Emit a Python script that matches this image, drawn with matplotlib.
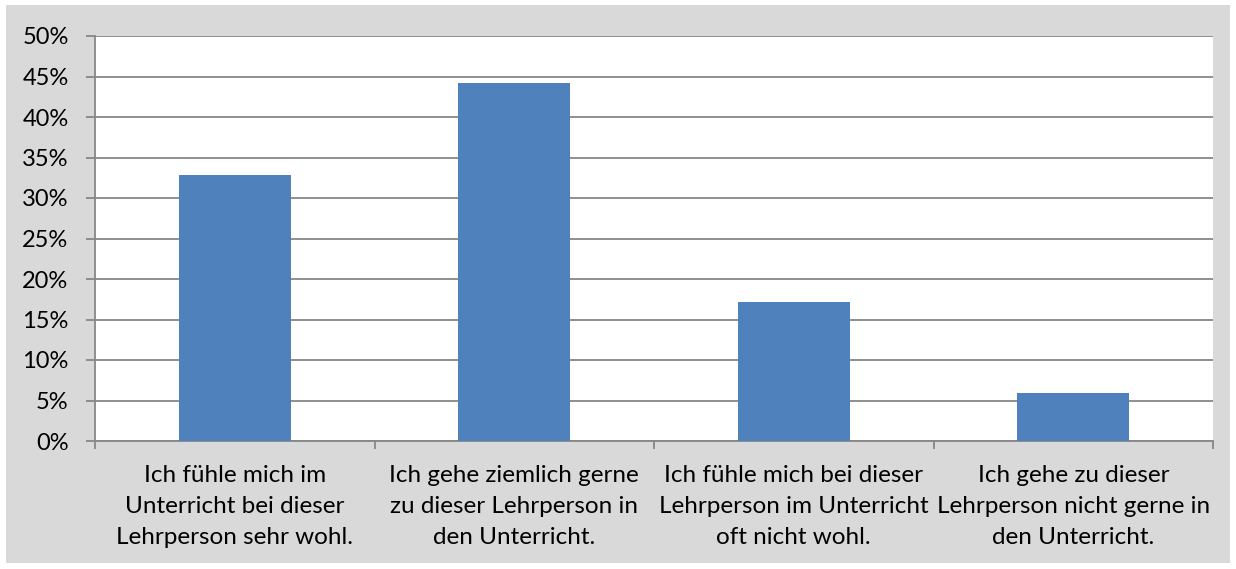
import matplotlib
matplotlib.use("Agg")
import matplotlib.pyplot as plt
from matplotlib.patches import Rectangle
from matplotlib.ticker import FixedLocator, PercentFormatter

categories = [
    "Ich fühle mich im\nUnterricht bei dieser\nLehrperson sehr wohl.",
    "Ich gehe ziemlich gerne\nzu dieser Lehrperson in\nden Unterricht.",
    "Ich fühle mich bei dieser\nLehrperson im Unterricht\noft nicht wohl.",
    "Ich gehe zu dieser\nLehrperson nicht gerne in\nden Unterricht.",
]
values = [32.8, 44.2, 17.2, 5.9]
yticks = [0, 5, 10, 15, 20, 25, 30, 35, 40, 45, 50]

plt.rcParams['font.family'] = ['Lato', 'DejaVu Sans']

W, H = 1236, 569
fig = plt.figure(figsize=(W / 100, H / 100), dpi=100, facecolor="white")
fig.patches.append(Rectangle((6 / W, 6 / H), (1230 - 6) / W, (564 - 6) / H,
                             transform=fig.transFigure, facecolor="#D9D9D9",
                             edgecolor="none", zorder=-10))

ax = fig.add_axes([95 / W, (H - 441) / H, (1213 - 95) / W, (441 - 36) / H])
ax.set_facecolor("white")
x = list(range(len(categories)))
ax.bar(x, values, width=0.4, color="#4F81BD", zorder=3)
ax.set_xlim(-0.5, len(categories) - 0.5)
ax.set_ylim(0, 50)
ax.set_yticks(yticks)
ax.yaxis.set_major_formatter(PercentFormatter(decimals=0))
ax.grid(axis="y", color="#878787", linewidth=1.3, zorder=1)
for s in ["top", "right"]:
    ax.spines[s].set_visible(False)
for s in ["left", "bottom"]:
    ax.spines[s].set_color("#878787")
    ax.spines[s].set_linewidth(1.3)
ax.tick_params(axis="y", length=6.5, width=1.3, color="#878787",
               labelsize=17, labelcolor="black", pad=12.5)
ax.set_xticks(x)
ax.set_xticklabels(categories, fontsize=17.5, linespacing=1.6)
ax.tick_params(axis="x", which="major", length=0, pad=17)
ax.xaxis.set_minor_locator(FixedLocator([-0.5 + i for i in range(len(categories) + 1)]))
ax.tick_params(axis="x", which="minor", length=6, width=1.3, color="#878787")

fig.savefig("out.png", dpi=100, facecolor="white")
